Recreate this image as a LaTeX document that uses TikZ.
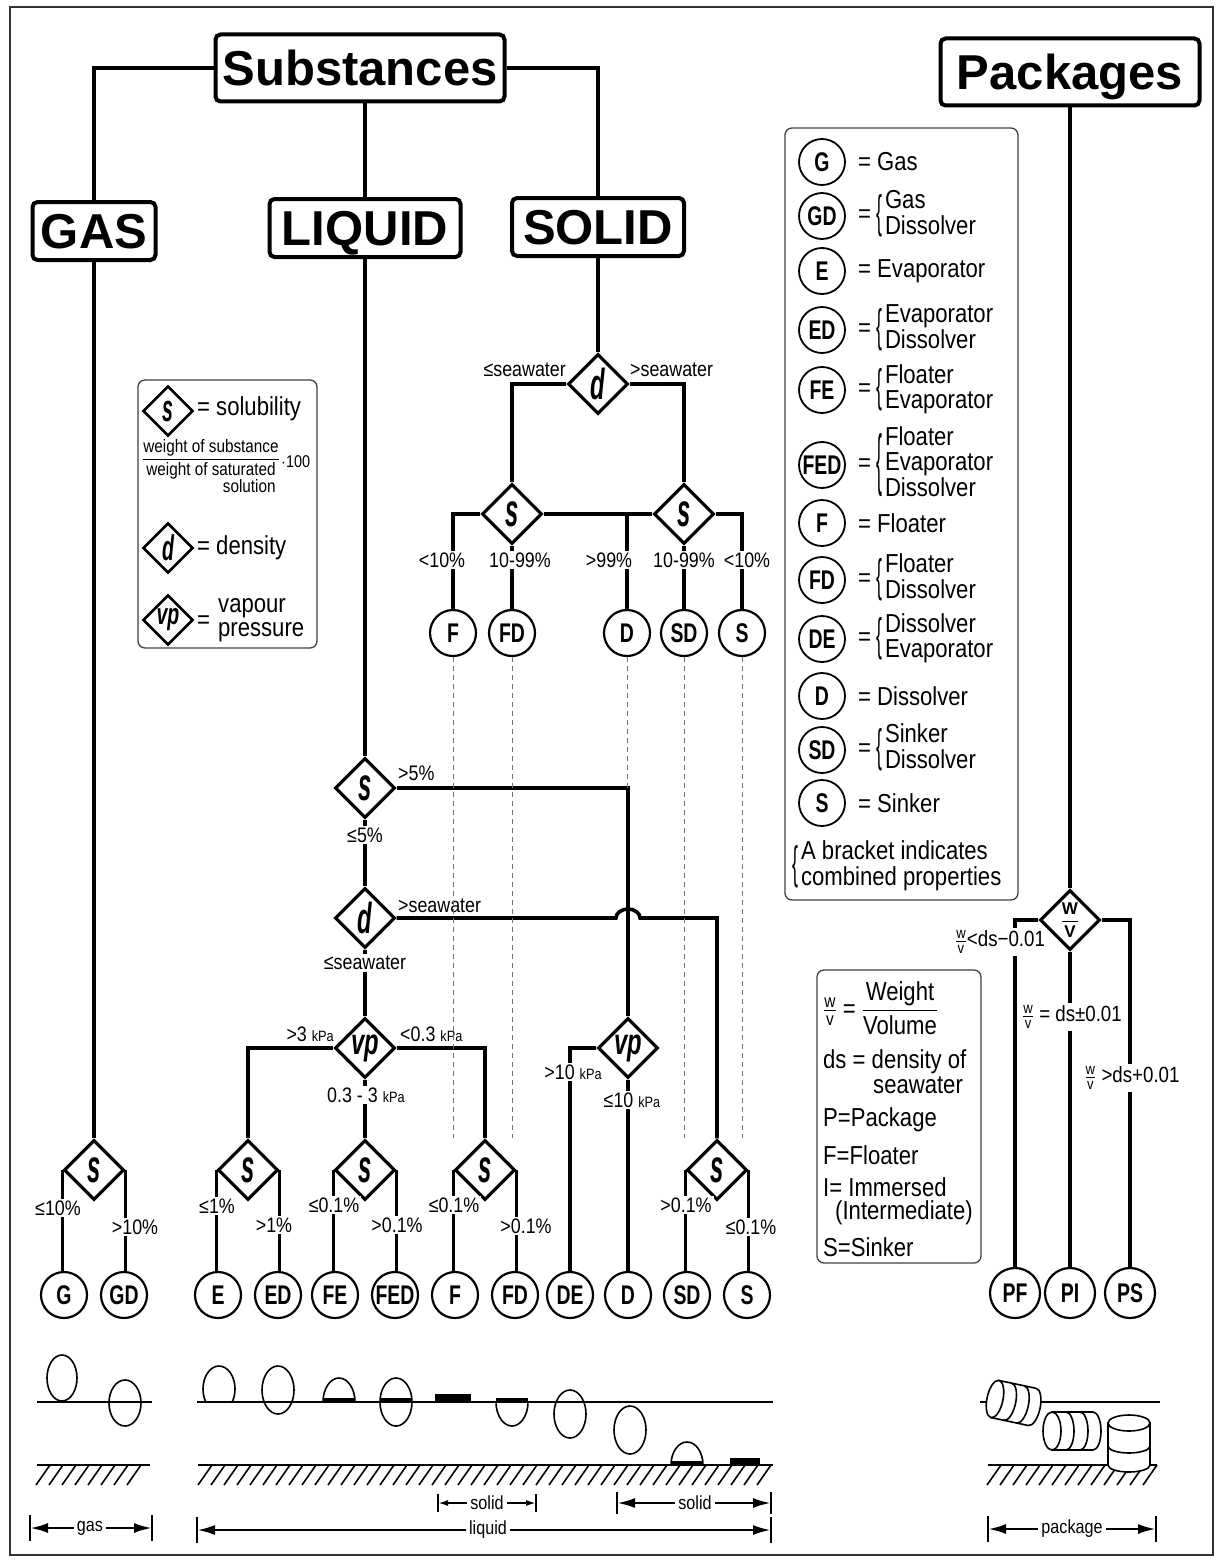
\documentclass[tikz,border=0pt]{standalone}
\usepackage{amsmath}
\usepackage{fontspec}
\setmainfont{Liberation Sans}
\newfontfamily\narrow[FakeStretch=0.85]{Liberation Sans}
\newfontfamily\condensed[FakeStretch=0.72]{Liberation Sans}
\usepackage{tikz}
\usetikzlibrary{arrows.meta,positioning,shapes.geometric,calc}

% letters in the test diamonds
\newcommand{\sym}[2][1.65]{\scalebox{0.85}[#1]{\bfseries\itshape #2}}
\newcommand{\wv}{\ensuremath{\frac{\text{w}}{\text{v}}}}
\newcommand{\kpa}{{\fontsize{15}{15}\selectfont kPa}}
% a thin bracket of text height
\newcommand{\bracket}[1]{\(\vcenter{\hbox{\scalebox{0.8}[#1]{\{}}}\)\kern3pt}
\newcommand{\combo}[2][1.75]{=\kern5pt\bracket{#1}\(\vcenter{\hbox{\begin{tabular}{@{}l@{}}#2\end{tabular}}}\)}

\begin{document}
\begin{tikzpicture}[
    x=1pt, y=-1pt,
    title/.style={
        % The shape:
        rectangle, rounded corners=5pt,
        minimum height=58pt, inner xsep=6pt, inner ysep=4pt,
        text height=35pt, text depth=0pt,
        % The border
        line width=4pt, draw=black,
        % The font
        font=\fontsize{49}{49}\selectfont\bfseries},
    branch/.style={line width=3.6pt},
    test/.style={
        % The shape:
        diamond, aspect=1, minimum size=60pt, inner sep=0pt,
        % The border
        line width=3.2pt, draw=black, fill=white,
        % The font
        font=\fontsize{28}{28}\selectfont},
    outcome/.style={
        circle, minimum size=46pt, inner sep=0pt,
        text height=19.5pt, text depth=0pt,
        line width=2.2pt, draw=black, fill=white,
        font=\condensed\fontsize{27}{27}\selectfont\bfseries},
    tag/.style={inner sep=2pt, font=\narrow\fontsize{21}{21}\selectfont},
    cond/.style={tag, fill=white},
    guide/.style={line width=1pt, draw=black!55, dash pattern=on 5pt off 4pt},
    legend/.style={line width=1.3pt, draw=black!75, rounded corners=7pt},
    keytext/.style={anchor=west, inner sep=0pt, font=\narrow\fontsize{26}{24}\selectfont},
    keycirc/.style={outcome, line width=1.8pt},
    keytest/.style={test, minimum size=50pt, line width=2.6pt,
        font=\fontsize{23}{23}\selectfont},
    surface/.style={line width=1.6pt},
    dimtext/.style={inner sep=3pt, font=\narrow\fontsize{19}{19}\selectfont},
    dimbar/.style={line width=1.8pt},
    dimarrow/.style={line width=2.6pt, -{Latex[length=18pt,width=10pt]}},
    smallarrow/.style={line width=1.8pt, -{Latex[length=10pt,width=6pt]}}
  ]
  \useasboundingbox (0,0) rectangle (1219,1560);
  \draw[line width=1.3pt, black!80] (10,7) rectangle (1213,1555);

  % titles
  \node (subst) [title, minimum width=289pt, minimum height=67pt] at (360,68) {Substances};
  \node (pack) [title, minimum width=259pt, minimum height=67pt] at (1070,72) {Packages};
  \node (gas) [title, minimum width=123pt] at (94,231) {GAS};
  \node (liquid) [title, minimum width=191pt] at (365,228) {LIQUID};
  \node (solid) [title, minimum width=172pt] at (598,227) {SOLID};

  % solid branch
  \node (solD) [test] at (598,384) {\sym[1.55]{d}};
  \node (solSL) [test] at (512,514) {\sym{s}};
  \node (solSR) [test] at (684,514) {\sym{s}};
  \node (solF) [outcome] at (453,633) {F};
  \node (solFD) [outcome] at (512,633) {FD};
  \node (solDis) [outcome] at (627,633) {D};
  \node (solSD) [outcome] at (684,633) {SD};
  \node (solS) [outcome] at (742,633) {S};

  % liquid and gas branches
  \node (liqS) [test] at (365,788) {\sym{s}};
  \node (liqD) [test] at (365,918) {\sym[1.55]{d}};
  \node (liqVP) [test] at (365,1048) {\sym[1.3]{vp}};
  \node (liqVPb) [test] at (628,1048) {\sym[1.3]{vp}};
  \node (gasS) [test] at (94,1170) {\sym{s}};
  \node (botS1) [test] at (248,1170) {\sym{s}};
  \node (botS2) [test] at (365,1170) {\sym{s}};
  \node (botS3) [test] at (485,1170) {\sym{s}};
  \node (botS4) [test] at (717,1170) {\sym{s}};
  \node (outG) [outcome] at (64,1295) {G};
  \node (outGD) [outcome] at (124,1295) {GD};
  \node (outE) [outcome] at (218,1295) {E};
  \node (outED) [outcome] at (278,1295) {ED};
  \node (outFE) [outcome] at (335,1295) {FE};
  \node (outFED) [outcome] at (395,1295) {FED};
  \node (outF) [outcome] at (455,1295) {F};
  \node (outFD) [outcome] at (515,1295) {FD};
  \node (outDE) [outcome] at (570,1295) {DE};
  \node (outD) [outcome] at (628,1295) {D};
  \node (outSD) [outcome] at (687,1295) {SD};
  \node (outS) [outcome] at (747,1295) {S};

  % packages branch
  \node (pWV) [test, font=\fontsize{17}{17}\selectfont\bfseries] at (1070,920) {$\dfrac{\text{W}}{\text{V}}$};
  \node (outPF) [outcome, minimum size=50pt] at (1015,1293) {PF};
  \node (outPI) [outcome, minimum size=50pt] at (1070,1293) {PI};
  \node (outPS) [outcome, minimum size=50pt] at (1130,1293) {PS};

  % connectors
  \draw[branch] (subst.west) -| (gas.north);
  \draw[branch] (subst.east) -| (solid.north);
  \draw[branch] (liquid.north) -- (liquid.north |- subst.south);
  \draw[branch] (pack.south) -- (pWV.north);
  \draw[branch] (gas.south) -- (gasS.north);
  \draw[branch] (liquid.south) -- (liqS.north);
  \draw[branch] (solid.south) -- (solD.north);

  \draw[branch] (solD.west) -| (solSL.north);
  \draw[branch] (solD.east) -| (solSR.north);
  \draw[branch] (solSL.west) -| (solF.north);
  \draw[branch] (solSL.south) -- (solFD.north);
  \draw[branch] (solSL.east) -- (solSR.west);
  \draw[branch] (solDis.north) -- (solDis.north |- solSL.east);
  \draw[branch] (solSR.south) -- (solSD.north);
  \draw[branch] (solSR.east) -| (solS.north);

  \draw[branch] (liqS.south) -- (liqD.north);
  \draw[branch] (liqS.east) -| (liqVPb.north);
  \draw[branch] (liqD.south) -- (liqVP.north);
  \draw[branch] (liqD.east) -- ($(liqD.east -| liqVPb.north)+(-12,0)$)
      arc[start angle=180, end angle=360, x radius=12, y radius=9] -| (botS4.north);
  \draw[branch] (liqVP.west) -| (botS1.north);
  \draw[branch] (liqVP.south) -- (botS2.north);
  \draw[branch] (liqVP.east) -| (botS3.north);
  \draw[branch] (liqVPb.west) -| (outDE.north);
  \draw[branch] (liqVPb.south) -- (outD.north);

  \draw[branch] (gasS.west) -- (gasS.west |- outG.north);
  \draw[branch] (gasS.east) -- (gasS.east |- outGD.north);
  \draw[branch] (botS1.west) -- (botS1.west |- outE.north);
  \draw[branch] (botS1.east) -- (botS1.east |- outED.north);
  \draw[branch] (botS2.west) -- (botS2.west |- outFE.north);
  \draw[branch] (botS2.east) -- (botS2.east |- outFED.north);
  \draw[branch] (botS3.west) -- (botS3.west |- outF.north);
  \draw[branch] (botS3.east) -- (botS3.east |- outFD.north);
  \draw[branch] (botS4.west) -- (botS4.west |- outSD.north);
  \draw[branch] (botS4.east) -- (botS4.east |- outS.north);

  \draw[branch] (pWV.west) -| (outPF.north);
  \draw[branch] (pWV.south) -- (outPI.north);
  \draw[branch] (pWV.east) -| (outPS.north);

  % conditions
  \node[tag, anchor=east] at (568,370) {≤seawater};
  \node[tag, anchor=west] at (628,370) {>seawater};
  \node[cond] at (442,560) {<10\%};
  \node[cond] at (520,560) {10-99\%};
  \node[cond] at (609,560) {>99\%};
  \node[cond] at (684,560) {10-99\%};
  \node[cond] at (747,560) {<10\%};

  \node[tag, anchor=west] at (396,773) {>5\%};
  \node[cond] at (365,835) {≤5\%};
  \node[tag, anchor=west] at (396,906) {>seawater};
  \node[cond] at (365,963) {≤seawater};
  \node[tag, anchor=east] at (336,1034) {>3 \kpa};
  \node[tag, anchor=west] at (398,1034) {<0.3 \kpa};
  \node[cond] at (366,1095) {0.3 - 3 \kpa};
  \node[cond] at (573,1072) {>10 \kpa};
  \node[cond] at (632,1100) {≤10 \kpa};

  \node[cond] at (58,1208) {≤10\%};
  \node[cond] at (135,1227) {>10\%};
  \node[cond] at (217,1206) {≤1\%};
  \node[cond] at (274,1225) {>1\%};
  \node[cond] at (334,1205) {≤0.1\%};
  \node[cond] at (397,1225) {>0.1\%};
  \node[cond] at (454,1205) {≤0.1\%};
  \node[cond] at (526,1226) {>0.1\%};
  \node[cond] at (686,1205) {>0.1\%};
  \node[cond] at (751,1227) {≤0.1\%};

  \node[cond, font=\narrow\fontsize{22}{22}\selectfont] at (1000,942) {\wv{}<ds−0.01};
  \node[cond, font=\narrow\fontsize{22}{22}\selectfont] at (1072,1017) {\wv{} = ds±0.01};
  \node[cond, font=\narrow\fontsize{22}{22}\selectfont] at (1132,1078) {\wv{} >ds+0.01};

  % key of the tests
  \draw[legend] (138,380) rectangle (317,648);
  \node (keyS) [keytest] at (168,411) {\sym{s}};
  \node [keytext] at (197,409) {= solubility};
  \node (numer) [anchor=south, inner sep=0pt, font=\narrow\fontsize{18}{15}\selectfont] at (211,456) {weight of substance};
  \draw[line width=1pt] (143,459) -- (279,459);
  \node (denom) [anchor=north, inner sep=0pt, font=\narrow\fontsize{18}{15}\selectfont] at (211,462) {\begin{tabular}{@{}r@{}}weight of saturated\\solution\end{tabular}};
  \node [anchor=west, inner sep=0pt, font=\narrow\fontsize{17}{17}\selectfont] at (281,462) {$\cdot$100};
  \node (keyD) [keytest] at (168,548) {\sym[1.55]{d}};
  \node [keytext] at (197,548) {= density};
  \node (keyVP) [keytest] at (168,620) {\sym[1.3]{vp}};
  \node [keytext] at (197,622) {=};
  \node [keytext, align=left] at (218,620) {vapour\\pressure};

  % key of the outcomes
  \draw[legend] (785,128) rectangle (1018,900);
  \node (keyG) [keycirc] at (822,162) {G};
  \node [keytext] at (858,162) {= Gas};
  \node (keyGD) [keycirc] at (822,216) {GD};
  \node [keytext] at (858,216) {\combo{Gas\\Dissolver}};
  \node (keyE) [keycirc] at (822,271) {E};
  \node [keytext] at (858,271) {= Evaporator};
  \node (keyED) [keycirc] at (822,330) {ED};
  \node [keytext] at (858,330) {\combo{Evaporator\\Dissolver}};
  \node (keyFE) [keycirc] at (822,390) {FE};
  \node [keytext] at (858,390) {\combo{Floater\\Evaporator}};
  \node (keyFED) [keycirc] at (822,465) {FED};
  \node [keytext] at (858,465) {\combo[2.6]{Floater\\Evaporator\\Dissolver}};
  \node (keyF) [keycirc] at (822,523) {F};
  \node [keytext] at (858,523) {= Floater};
  \node (keyFD) [keycirc] at (822,580) {FD};
  \node [keytext] at (858,580) {\combo{Floater\\Dissolver}};
  \node (keyDE) [keycirc] at (822,639) {DE};
  \node [keytext] at (858,639) {\combo{Dissolver\\Evaporator}};
  \node (keyDis) [keycirc] at (822,696) {D};
  \node [keytext] at (858,696) {= Dissolver};
  \node (keySD) [keycirc] at (822,750) {SD};
  \node [keytext] at (858,750) {\combo{Sinker\\Dissolver}};
  \node (keySk) [keycirc] at (822,803) {S};
  \node [keytext] at (858,803) {= Sinker};
  \node [keytext] at (792,867) {\bracket{1.75}\(\vcenter{\hbox{\begin{tabular}{@{}l@{}}A bracket indicates\\combined properties\end{tabular}}}\)};

  % key of the packages
  \draw[legend] (817,970) rectangle (981,1263);
  \node [keytext] at (823,1008) {\wv{} = \(\dfrac{\text{Weight}}{\text{Volume}}\)};
  \node [keytext] at (823,1062) {ds = density of};
  \node [keytext] at (873,1085) {seawater};
  \node [keytext] at (823,1120) {P=Package};
  \node [keytext] at (823,1155) {F=Floater};
  \node [keytext] at (823,1187) {I= Immersed};
  \node [keytext] at (835,1213) {(Intermediate)};
  \node [keytext] at (823,1247) {S=Sinker};

  % gas scene
  \draw[surface] (37,1402) -- (152,1402);
  \draw[surface] (62,1378) ellipse[x radius=15, y radius=23];
  \draw[surface] (125,1403) ellipse[x radius=16, y radius=23];
  \draw[surface] (37,1465) -- (150,1465);
  \foreach \x in {50,63,...,141} \draw[surface] (\x,1465) -- ++(-14,20);

  % liquid scene
  \draw[surface] (197,1402) -- (773,1402);
  \draw[surface] (219,1389) ++(145.6:16 and 23)
      arc[start angle=145.6, end angle=394.4, x radius=16, y radius=23];
  \draw[surface] (278,1390) ellipse[x radius=16, y radius=24];
  \draw[surface] (323,1402) arc[start angle=180, end angle=360, x radius=16, y radius=24];
  \fill (323,1398) rectangle (355,1402);
  \draw[surface] (396,1402) ellipse[x radius=16, y radius=24];
  \fill (380,1398) rectangle (412,1402);
  \fill (435,1394) rectangle (471,1402);
  \draw[surface] (496,1402) arc[start angle=180, end angle=0, x radius=16, y radius=24];
  \fill (496,1398) rectangle (528,1402);
  \draw[surface] (570,1414) ellipse[x radius=16, y radius=24];
  \draw[surface] (630,1430) ellipse[x radius=16, y radius=24];
  \draw[surface] (198,1465) -- (773,1465);
  \draw[surface] (671,1465) arc[start angle=180, end angle=360, x radius=16, y radius=23];
  \fill (671,1461) rectangle (703,1465);
  \fill (730,1458) rectangle (760,1465);
  \foreach \x in {212,225,...,773} \draw[surface] (\x,1465) -- ++(-14,20);

  % package scene
  \draw[surface] (980,1402) -- (1160,1402);
  \draw[surface] (988,1465) -- (1157,1465);
  \foreach \x in {1001,1014,...,1157} \draw[surface] (\x,1465) -- ++(-14,20);
  \begin{scope}[shift={(995,1399)}, rotate=-12, surface]
    \filldraw[fill=white] (0,-19) -- (38,-19)
        arc[start angle=-90, end angle=90, x radius=8, y radius=19] -- (0,19) -- cycle;
    \draw (13,-19) arc[start angle=-90, end angle=90, x radius=8, y radius=19];
    \draw (26,-19) arc[start angle=-90, end angle=90, x radius=8, y radius=19];
    \filldraw[fill=white] (0,0) ellipse[x radius=8, y radius=19];
  \end{scope}
  \begin{scope}[shift={(1052,1431)}, surface]
    \filldraw[fill=white] (0,-19) -- (41,-19)
        arc[start angle=-90, end angle=90, x radius=8, y radius=19] -- (0,19) -- cycle;
    \draw (14,-19) arc[start angle=-90, end angle=90, x radius=8, y radius=19];
    \draw (28,-19) arc[start angle=-90, end angle=90, x radius=8, y radius=19];
    \filldraw[fill=white] (0,0) ellipse[x radius=9, y radius=19];
  \end{scope}
  \filldraw[surface, fill=white] (1108,1423) -- (1108,1465)
      arc[start angle=180, end angle=0, x radius=21, y radius=7] -- (1150,1423) -- cycle;
  \draw[surface] (1108,1446) arc[start angle=180, end angle=0, x radius=21, y radius=7];
  \filldraw[surface, fill=white] (1129,1423) ellipse[x radius=21, y radius=8];

  % extents
  \coordinate (gasL) at (30,1528);
  \coordinate (gasR) at (152,1528);
  \node (gasTxt) [dimtext] at (90,1528) {gas};
  \draw[dimbar] ($(gasL)+(0,-13)$) -- ($(gasL)+(0,13)$);
  \draw[dimbar] ($(gasR)+(0,-13)$) -- ($(gasR)+(0,13)$);
  \draw[dimarrow] (gasTxt) -- (gasL);
  \draw[dimarrow] (gasTxt) -- (gasR);

  \coordinate (liqL) at (197,1530);
  \coordinate (liqR) at (771,1530);
  \node (liqTxt) [dimtext] at (488,1530) {liquid};
  \draw[dimbar] ($(liqL)+(0,-13)$) -- ($(liqL)+(0,13)$);
  \draw[dimbar] ($(liqR)+(0,-13)$) -- ($(liqR)+(0,13)$);
  \draw[dimarrow] (liqTxt) -- (liqL);
  \draw[dimarrow] (liqTxt) -- (liqR);

  \coordinate (solAL) at (438,1503);
  \coordinate (solAR) at (536,1503);
  \node (solATxt) [dimtext] at (487,1503) {solid};
  \draw[dimbar] ($(solAL)+(0,-9)$) -- ($(solAL)+(0,9)$);
  \draw[dimbar] ($(solAR)+(0,-9)$) -- ($(solAR)+(0,9)$);
  \draw[smallarrow] (solATxt) -- (solAL);
  \draw[smallarrow] (solATxt) -- (solAR);

  \coordinate (solBL) at (617,1503);
  \coordinate (solBR) at (771,1503);
  \node (solBTxt) [dimtext] at (695,1503) {solid};
  \draw[dimbar] ($(solBL)+(0,-11)$) -- ($(solBL)+(0,11)$);
  \draw[dimbar] ($(solBR)+(0,-11)$) -- ($(solBR)+(0,11)$);
  \draw[dimarrow] (solBTxt) -- (solBL);
  \draw[dimarrow] (solBTxt) -- (solBR);

  \coordinate (packL) at (988,1529);
  \coordinate (packR) at (1156,1529);
  \node (packTxt) [dimtext] at (1072,1529) {package};
  \draw[dimbar] ($(packL)+(0,-13)$) -- ($(packL)+(0,13)$);
  \draw[dimbar] ($(packR)+(0,-13)$) -- ($(packR)+(0,13)$);
  \draw[dimarrow] (packTxt) -- (packL);
  \draw[dimarrow] (packTxt) -- (packR);

  % dotted guides from the solid outcomes
  \draw[guide] (solF.south) -- (solF.south |- botS3.north);
  \draw[guide] (solFD.south) -- (solFD.south |- botS3.north);
  \draw[guide] (solDis.south) -- (solDis.south |- liqS.east);
  \draw[guide] (solSD.south) -- (solSD.south |- botS4.north);
  \draw[guide] (solS.south) -- (solS.south |- botS4.north);
\end{tikzpicture}
\end{document}
